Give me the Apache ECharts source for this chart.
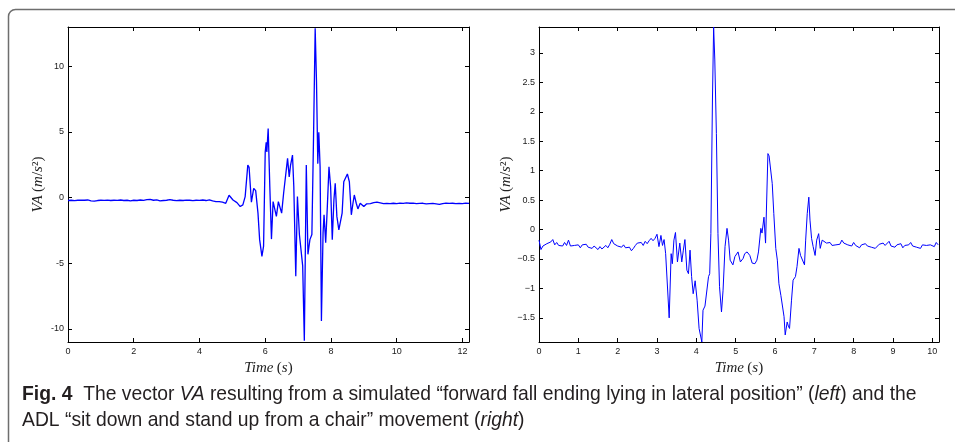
<!DOCTYPE html>
<html>
<head>
<meta charset="utf-8">
<script src="https://cdn.jsdelivr.net/npm/echarts@6/dist/echarts.min.js"></script>
<style>
  html, body { margin: 0; padding: 0; background: #fff; }
  #main { width: 955px; height: 442px; }
</style>
</head>
<body>
<div id="main"></div>
<script>
// left panel: forward fall ending lying in lateral position
var leftTime = [
  0, 0.1, 0.2, 0.3, 0.4, 0.5, 0.6, 0.7, 0.8, 0.9, 1.0, 1.1, 1.2, 1.3, 1.4, 1.5, 1.6, 1.7, 1.8, 1.9,
  2.0, 2.1, 2.2, 2.3, 2.4, 2.5, 2.6, 2.7, 2.8, 2.9, 3.0, 3.1, 3.2, 3.3, 3.4, 3.5, 3.6, 3.7, 3.8, 3.9,
  4.0, 4.1, 4.2, 4.3, 4.4, 4.5, 4.6, 4.7, 4.8,
  4.9, 5.02, 5.14, 5.24, 5.32, 5.39, 5.47, 5.51, 5.58, 5.65, 5.71, 5.78, 5.83, 5.9, 5.95, 6.0, 6.03, 6.05, 6.09,
  6.14, 6.19, 6.24, 6.29, 6.34, 6.4, 6.44, 6.5, 6.56, 6.61, 6.68, 6.73, 6.77, 6.83, 6.87, 6.93, 6.98, 7.04, 7.1,
  7.14, 7.19, 7.25, 7.3, 7.36, 7.42, 7.47, 7.52, 7.56, 7.6, 7.63, 7.67, 7.71, 7.76, 7.79, 7.84, 7.89, 7.94, 7.99,
  8.04, 8.09, 8.13, 8.18, 8.24, 8.28, 8.34, 8.39, 8.43, 8.5, 8.56, 8.62, 8.67, 8.71, 8.77, 8.82, 8.89, 8.95, 9.0, 9.08,
  9.2, 9.3, 9.4, 9.5, 9.6, 9.7, 9.8, 9.9, 10.0, 10.1, 10.2, 10.3, 10.4, 10.5, 10.6, 10.7, 10.8, 10.9,
  11.0, 11.1, 11.2, 11.3, 11.4, 11.5, 11.6, 11.7, 11.8, 11.9, 12.0, 12.1, 12.2
];
var leftVA = [
  -0.22, -0.2, -0.23, -0.2, -0.19, -0.2, -0.18, -0.24, -0.27, -0.22, -0.2, -0.21, -0.19, -0.22, -0.2, -0.21, -0.18, -0.22, -0.2, -0.24,
  -0.2, -0.22, -0.18, -0.21, -0.15, -0.14, -0.2, -0.17, -0.25, -0.22, -0.2, -0.15, -0.2, -0.23, -0.2, -0.22, -0.19, -0.2, -0.23, -0.2,
  -0.21, -0.18, -0.22, -0.17, -0.25, -0.3, -0.3, -0.35, -0.43,
  0.18, -0.18, -0.38, -0.68, -0.55, 0.08, 2.48, 2.3, -0.35, 0.7, 0.53, -1.18, -3.2, -4.47, -3.7, 3.47, 4.22, 3.47, 5.26,
  0.83, -3.16, -0.3, -0.43, -1.43, -0.3, -0.43, -1.18, 0.33, 0.45, 2.99, 1.58, 2.46, 3.24, 0.83, -5.99, 0.08, -2.81, -2.94,
  -5.2, -10.9, 2.48, -4.32, -3.2, -2.81, 4.6, 12.9, 8.87, 2.59, 4.97, 2.34, -9.4, -2.7, -1.3, -3.44, -0.68, 2.35, 0.83,
  -3.2, -0.18, 1.09, -1.43, -2.45, -2.56, -1.18, 1.21, 1.13, 1.8, 1.21, -1.31, -0.43, 0.2, -0.43, -0.86, -0.43, -0.55, -0.68, -0.48,
  -0.45, -0.38, -0.35, -0.4, -0.45, -0.44, -0.46, -0.43, -0.45, -0.42, -0.44, -0.4, -0.43, -0.42, -0.45, -0.44, -0.43, -0.47,
  -0.45, -0.44, -0.48, -0.52, -0.45, -0.42, -0.44, -0.43, -0.46, -0.44, -0.45, -0.42, -0.44
];

// right panel: ADL "sit down and stand up from a chair"
var rightTime = [
  0, 0.05, 0.1, 0.15, 0.2, 0.25, 0.3, 0.35, 0.4, 0.45, 0.5, 0.55, 0.6, 0.65, 0.7, 0.75, 0.8, 0.85, 0.9, 0.95,
  1.0, 1.05, 1.1, 1.15, 1.2, 1.25, 1.3, 1.35, 1.4, 1.45, 1.5, 1.55, 1.6, 1.65, 1.7, 1.75, 1.8, 1.85, 1.9, 1.95,
  2.0, 2.05, 2.1, 2.15, 2.2, 2.25, 2.3, 2.35, 2.4, 2.45, 2.5, 2.55, 2.6, 2.65, 2.7, 2.75, 2.8, 2.85, 2.9, 2.95, 3.0,
  3.05, 3.1, 3.14, 3.18, 3.22, 3.31, 3.36, 3.39, 3.43, 3.47, 3.52, 3.58, 3.63, 3.67, 3.71, 3.76, 3.8, 3.84, 3.88,
  3.92, 3.97, 4.02, 4.07, 4.14, 4.17, 4.22, 4.25, 4.31, 4.34, 4.37, 4.41, 4.44, 4.47, 4.51, 4.55, 4.59, 4.64, 4.68,
  4.73, 4.78, 4.82, 4.86, 4.93, 4.98, 5.06, 5.12, 5.19, 5.23, 5.29, 5.36, 5.42, 5.49, 5.54, 5.58, 5.64, 5.67, 5.72,
  5.76, 5.82, 5.85, 5.89, 5.93, 5.97, 6.02, 6.06, 6.1, 6.15, 6.19, 6.23, 6.26, 6.31, 6.34, 6.37, 6.42, 6.46, 6.52,
  6.56, 6.61, 6.65, 6.69, 6.75, 6.78, 6.82, 6.86, 6.89, 6.93, 6.97, 7.02, 7.06, 7.11, 7.15, 7.2, 7.25, 7.31,
  7.35, 7.4, 7.45, 7.5, 7.55, 7.6, 7.65, 7.7, 7.75, 7.8, 7.85, 7.9, 7.95, 8.0, 8.05, 8.1, 8.15, 8.2, 8.25, 8.3,
  8.35, 8.4, 8.45, 8.5, 8.55, 8.6, 8.65, 8.7, 8.75, 8.8, 8.85, 8.9, 8.95, 9.0, 9.05, 9.1, 9.15, 9.2, 9.25, 9.3,
  9.35, 9.4, 9.45, 9.5, 9.55, 9.6, 9.65, 9.7, 9.75, 9.8, 9.85, 9.9, 9.95, 10.0, 10.05, 10.1, 10.15
];
var rightVA = [
  -0.18, -0.34, -0.28, -0.25, -0.24, -0.26, -0.21, -0.17, -0.26, -0.22, -0.27, -0.24, -0.28, -0.22, -0.27, -0.18, -0.28, -0.25, -0.27, -0.24,
  -0.26, -0.31, -0.26, -0.29, -0.25, -0.3, -0.27, -0.32, -0.28, -0.3, -0.34, -0.29, -0.33, -0.3, -0.27, -0.31, -0.25, -0.17, -0.24, -0.22,
  -0.28, -0.25, -0.3, -0.26, -0.31, -0.33, -0.3, -0.36, -0.32, -0.27, -0.23, -0.26, -0.22, -0.27, -0.2, -0.24, -0.19, -0.15, -0.19, -0.15, -0.08,
  -0.29, -0.1, -0.27, -0.17, -0.41, -1.5, -0.41, -0.58, -0.18, -0.05, -0.55, -0.23, -0.55, -0.35, -0.17, -0.69, -0.75, -0.35, -0.8,
  -1.09, -0.87, -1.2, -1.68, -1.91, -1.37, -1.3, -1.31, -0.8, -0.75, -0.07, 2.2, 3.44, 2.88, 1.63, -0.07, -0.97, -1.4, -1.03,
  -0.29, 0.02, -0.18, -0.52, -0.6, -0.46, -0.38, -0.55, -0.49, -0.41, -0.38, -0.44, -0.57, -0.58, -0.52, -0.38, 0.02, -0.06, 0.21,
  -0.23, 1.29, 1.25, 1.26, 0.78, 0.27, -0.32, -0.52, -0.92, -1.12, -1.12, -1.48, -1.79, -1.57, -1.64, -1.68, -1.2, -0.86, -0.8,
  -0.63, -0.32, -0.44, -0.46, -0.6, -0.18, 0.27, 0.55, 0.16, -0.15, -0.29, -0.44, -0.18, -0.07, -0.32, -0.18, -0.2, -0.23,
  -0.25, -0.22, -0.27, -0.24, -0.26, -0.29, -0.25, -0.18, -0.23, -0.2, -0.26, -0.24, -0.28, -0.22, -0.27, -0.25, -0.31, -0.26, -0.29, -0.24,
  -0.28, -0.26, -0.3, -0.27, -0.32, -0.29, -0.25, -0.28, -0.23, -0.27, -0.24, -0.2, -0.28, -0.25, -0.3, -0.26, -0.29, -0.24, -0.31, -0.27,
  -0.3, -0.26, -0.22, -0.28, -0.25, -0.3, -0.27, -0.32, -0.26, -0.23, -0.27, -0.3, -0.26, -0.24, -0.29, -0.22, -0.26
];

var leftXTicks = [0, 2, 4, 6, 8, 10, 12];
var leftYTicks = [-10, -5, 0, 5, 10];
var rightXTicks = [0, 1, 2, 3, 4, 5, 6, 7, 8, 9, 10];
var rightYTicks = [-1.5, -1, -0.5, 0, 0.5, 1, 1.5, 2, 2.5, 3];

var captionText = '{b|Fig. 4}  The vector {i|VA} resulting from a simulated \u201cforward fall ending lying in lateral position\u201d ({i|left}) and the\n' +
  'ADL \u201csit down and stand up from a chair\u201d movement ({i|right})';

function zip(a, b) {
  return a.map(function (t, i) { return [t, b[i]]; });
}

var labelFont = { fontFamily: 'Liberation Sans', fontSize: 9, color: '#1a1a1a' };
var tickStyle = { inside: true, length: 4, lineStyle: { color: '#000', width: 1 } };
var lineStyle = { lineStyle: { color: '#000', width: 1 } };
var nameRich = {
  it: { fontFamily: 'Liberation Serif', fontStyle: 'italic', fontSize: 15, color: '#222' },
  rm: { fontFamily: 'Liberation Serif', fontSize: 15, color: '#222' },
  sup: { fontFamily: 'Liberation Serif', fontStyle: 'italic', fontSize: 10, color: '#222', verticalAlign: 'top', padding: [0, 0, 6, 0] }
};

function xAxes(grid, min, max, ticks) {
  return [
    {
      type: 'value', gridIndex: grid, position: 'bottom', min: min, max: max,
      axisLine: Object.assign({ onZero: false }, lineStyle),
      axisTick: Object.assign({ customValues: ticks }, tickStyle),
      axisLabel: Object.assign({ customValues: ticks, margin: 5 }, labelFont),
      splitLine: { show: false },
      name: '{it|Time} {rm|(}{it|s}{rm|)}', nameLocation: 'middle', nameGap: 13,
      nameTextStyle: { rich: nameRich }
    },
    {
      type: 'value', gridIndex: grid, position: 'top', min: min, max: max,
      axisLine: Object.assign({ onZero: false }, lineStyle),
      axisTick: Object.assign({ customValues: ticks }, tickStyle),
      axisLabel: { show: false },
      splitLine: { show: false }
    }
  ];
}

function yAxes(grid, min, max, ticks, minus) {
  return [
    {
      type: 'value', gridIndex: grid, position: 'left', min: min, max: max,
      axisLine: Object.assign({ onZero: false }, lineStyle),
      axisTick: Object.assign({ customValues: ticks }, tickStyle),
      axisLabel: Object.assign({
        customValues: ticks, margin: 4,
        formatter: function (v) { return String(v).replace('-', minus); }
      }, labelFont),
      splitLine: { show: false },
      name: '{it|VA} {rm|(}{it|m}{rm|/}{it|s}{rm|\u00b2)}', nameLocation: 'middle', nameGap: 22,
      nameTextStyle: { rich: nameRich }
    },
    {
      type: 'value', gridIndex: grid, position: 'right', min: min, max: max,
      axisLine: Object.assign({ onZero: false }, lineStyle),
      axisTick: Object.assign({ customValues: ticks }, tickStyle),
      axisLabel: { show: false },
      splitLine: { show: false }
    }
  ];
}

var capFont = 'Liberation Sans';
var chart = echarts.init(document.getElementById('main'), null, { renderer: 'canvas' });
chart.setOption({
  animation: false,
  backgroundColor: '#fff',
  grid: [
    { left: 68, top: 27, width: 401, height: 315, outerBoundsMode: 'none' },
    { left: 539, top: 27, width: 400, height: 315, outerBoundsMode: 'none' }
  ],
  xAxis: xAxes(0, 0, 12.2, leftXTicks).concat(xAxes(1, 0, 10.17, rightXTicks)),
  yAxis: yAxes(0, -11, 13, leftYTicks, '-').concat(yAxes(1, -1.91, 3.44, rightYTicks, '\u2212')),
  series: [
    {
      type: 'line', xAxisIndex: 0, yAxisIndex: 0, data: zip(leftTime, leftVA),
      showSymbol: false, lineStyle: { color: '#0000ff', width: 1.3 }
    },
    {
      type: 'line', xAxisIndex: 2, yAxisIndex: 2, data: zip(rightTime, rightVA),
      showSymbol: false, lineStyle: { color: '#0000ff', width: 1 }
    }
  ],
  graphic: [
    {
      type: 'rect', silent: true,
      shape: { x: 8.5, y: 9.5, width: 980, height: 460, r: 7 },
      style: { fill: 'none', stroke: '#6e6e6e', lineWidth: 1.5 }
    },
    {
      type: 'text', x: 22, y: 381, scaleX: 0.92, silent: true,
      style: {
        text: captionText,
        fontFamily: capFont,
        fontSize: 21, lineHeight: 26, fill: '#231f20',
        rich: {
          b: { fontFamily: capFont, fontSize: 21, fontWeight: 'bold', lineHeight: 26 },
          i: { fontFamily: capFont, fontSize: 21, fontStyle: 'italic', lineHeight: 26 }
        }
      }
    }
  ]
});
</script>
</body>
</html>
